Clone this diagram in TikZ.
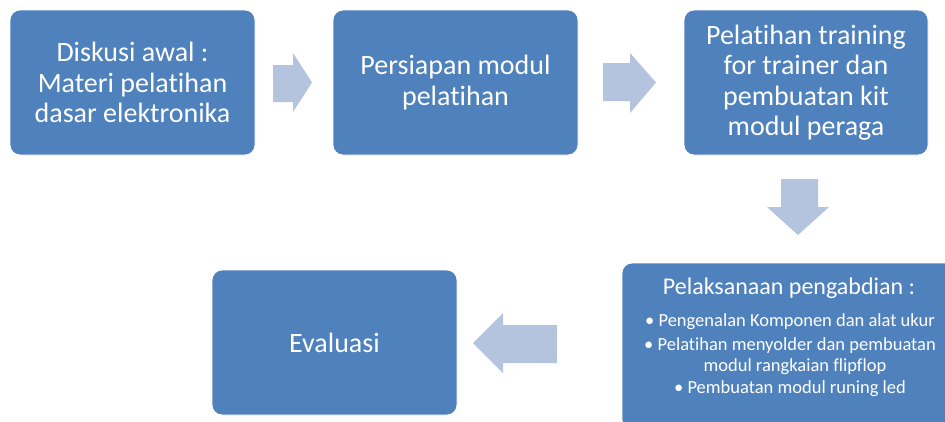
\documentclass[tikz,border=0pt]{standalone}
\usepackage{fontspec}
\setmainfont{Carlito}[Ligatures={NoCommon}]
\definecolor{boxblue}{RGB}{79,129,189}
\definecolor{arrowblue}{RGB}{180,196,223}
\begin{document}
\begin{tikzpicture}[x=1pt,y=-1pt,
  stepbox/.style={rectangle, rounded corners=10pt, fill=boxblue, draw=white, line width=0.8pt,
    text=white, align=center, inner sep=0pt, font=\fontsize{28}{30.5}\selectfont},
  blockarrow/.style={fill=arrowblue, draw=none},
  smalltxt/.style={text=white, anchor=base, inner sep=0pt, font=\fontsize{18.5}{21}\selectfont},
]
\clip (0,0) rectangle (945,421);
\useasboundingbox (0,0) rectangle (945,421);
\fill[white] (0,0) rectangle (945,421);

\node[stepbox, minimum width=245pt, minimum height=145pt] (b1) at (132.5,82.5)
  {Diskusi awal :\\Materi pelatihan\\dasar elektronika};
\node[stepbox, minimum width=245pt, minimum height=145pt] (b2) at (455.5,82.5)
  {Persiapan modul\\pelatihan};
\node[stepbox, minimum width=244pt, minimum height=145pt] (b3) at (806,82.5)
  {Pelatihan training\\for trainer dan\\pembuatan kit\\modul peraga};
\node[stepbox, minimum width=336pt, minimum height=167pt] (b5) at (790,346.5) {};
\node[stepbox, minimum width=245pt, minimum height=145pt] (b4) at (334.5,342.5)
  {Evaluasi};

% text of the implementation box
\node[smalltxt, font=\fontsize{24}{27}\selectfont] (t0) at (789,294) {Pelaksanaan pengabdian :};
\node[smalltxt] (t1) at (790,326) {• Pengenalan Komponen dan alat ukur};
\node[smalltxt] (t2) at (790,350) {• Pelatihan menyolder dan pembuatan};
\node[smalltxt] (t3) at (795,371) {modul rangkaian flipflop};
\node[smalltxt] (t4) at (790,393) {• Pembuatan modul runing led};

% block arrows
\fill[blockarrow] (273,65) -- (293,65) -- (293,53) -- (312,82.5) -- (293,112) -- (293,102) -- (273,102) -- cycle;
\fill[blockarrow] (603,63) -- (630,63) -- (630,53) -- (656,82.5) -- (630,113) -- (630,101) -- (603,101) -- cycle;
\fill[blockarrow] (781,179) -- (818,179) -- (818,207) -- (829,207) -- (798,235) -- (767,207) -- (781,207) -- cycle;
\fill[blockarrow] (557,325) -- (557,363) -- (503,363) -- (503,373) -- (473,343) -- (503,313) -- (503,325) -- cycle;
\end{tikzpicture}
\end{document}
